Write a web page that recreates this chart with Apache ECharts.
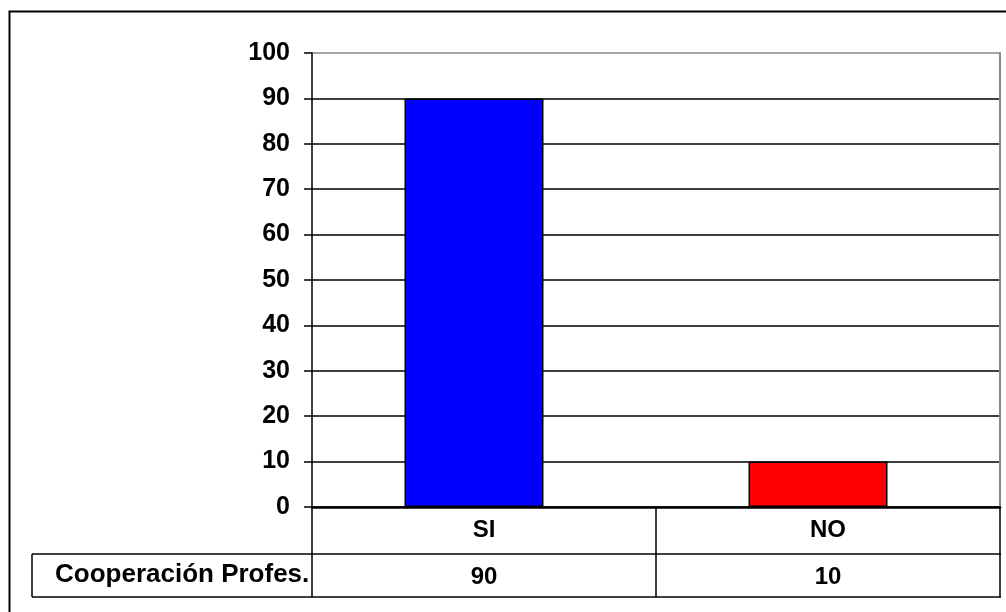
<!DOCTYPE html>
<html>
<head>
<meta charset="utf-8">
<script src="https://cdn.jsdelivr.net/npm/echarts@6/dist/echarts.min.js"></script>
<style>
html,body{margin:0;padding:0;background:#fff;}
#chart{width:1006px;height:612px;}
</style>
</head>
<body>
<div id="chart"></div>
<script>
var categories = ['SI', 'NO'];
var values = [90, 10];
var barColors = ['#0000ff', '#ff0000'];
var seriesName = 'Cooperación Profes.';
var yTicks = [0, 10, 20, 30, 40, 50, 60, 70, 80, 90, 100];

var FONT = "'Liberation Sans', Arial, sans-serif";
var chart = echarts.init(document.getElementById('chart'), null, {renderer: 'canvas'});

var splitColors = yTicks.map(function (v) { return v === 100 ? '#888888' : '#000000'; });

var option = {
  animation: false,
  backgroundColor: '#ffffff',
  textStyle: {fontFamily: FONT},
  grid: [
    {left: 312, right: 6, top: 53, bottom: 105},
    {left: 302, right: 16, top: 53, bottom: 105}
  ],
  xAxis: [
    {
      type: 'category', gridIndex: 0, data: categories,
      axisLine: {show: true, lineStyle: {color: '#000', width: 2.5}},
      axisTick: {show: true, length: 90, lineStyle: {color: '#000', width: 1.5}},
      axisLabel: {fontFamily: FONT, fontWeight: 'bold', fontSize: 24, color: '#000', margin: 11},
      splitLine: {show: false}
    },
    {
      type: 'category', gridIndex: 0, data: categories, position: 'bottom', offset: 47,
      axisLine: {show: false}, axisTick: {show: false},
      axisLabel: {
        fontFamily: FONT, fontWeight: 'bold', fontSize: 24, color: '#000', margin: 11,
        formatter: function (v, i) { return String(values[i]); }
      }
    },
    {
      type: 'category', gridIndex: 1, data: categories, show: false
    }
  ],
  yAxis: [
    {
      type: 'value', gridIndex: 0, min: 0, max: 100, interval: 10,
      axisLine: {show: true, lineStyle: {color: '#000', width: 1.5}},
      axisTick: {show: true, length: 8, lineStyle: {color: '#000', width: 1.5}},
      axisLabel: {fontFamily: FONT, fontWeight: 'bold', fontSize: 25, color: '#000', margin: 22},
      splitLine: {show: true, lineStyle: {color: splitColors, width: 1.5}}
    },
    {
      type: 'value', gridIndex: 0, min: 0, max: 100, interval: 10, position: 'right',
      axisLine: {show: true, lineStyle: {color: '#888888', width: 2}},
      axisTick: {show: false}, axisLabel: {show: false}, splitLine: {show: false}
    },
    {
      type: 'value', gridIndex: 1, min: 0, max: 100, interval: 10, show: false,
      splitLine: {show: false}
    }
  ],
  series: [
    {
      name: seriesName, type: 'bar', xAxisIndex: 2, yAxisIndex: 2,
      barWidth: 139,
      data: values.map(function (v, i) {
        return {value: v, itemStyle: {color: barColors[i], borderColor: '#000', borderWidth: 1.5}};
      })
    }
  ],
  graphic: [
    {type: 'rect', shape: {x: 9.5, y: 11.5, width: 1200, height: 800}, style: {fill: 'none', stroke: '#000', lineWidth: 2}, z: 10},
    {type: 'line', shape: {x1: 32, y1: 554, x2: 1001, y2: 554}, style: {stroke: '#000', lineWidth: 1.5}, z: 10},
    {type: 'line', shape: {x1: 32, y1: 597, x2: 1001, y2: 597}, style: {stroke: '#000', lineWidth: 1.5}, z: 10},
    {type: 'line', shape: {x1: 32, y1: 554, x2: 32, y2: 597}, style: {stroke: '#000', lineWidth: 1.5}, z: 10},
    {type: 'text', left: 55, top: 562, style: {text: seriesName, font: 'bold 26px ' + FONT, fill: '#000'}, z: 10}
  ]
};
chart.setOption(option);
</script>
</body>
</html>
